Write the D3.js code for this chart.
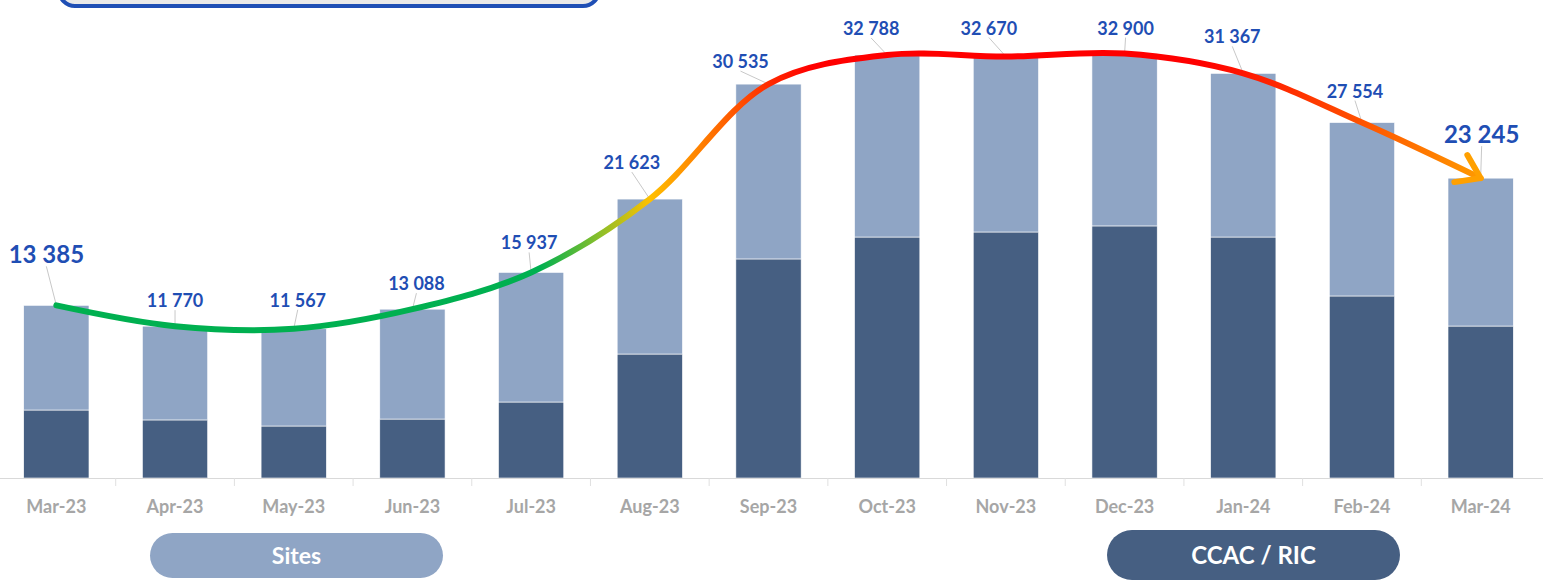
<!DOCTYPE html>
<html>
<head>
<meta charset="utf-8">
<script src="https://cdn.jsdelivr.net/npm/d3@7"></script>
<style>
  html, body { margin: 0; padding: 0; background: #fff; }
  svg { display: block; }
  text { font-family: Lato, "Open Sans", sans-serif; font-weight: 700; }
</style>
</head>
<body>
<div id="wrapper"></div>
<script>
// data
const months = ["Mar-23", "Apr-23", "May-23", "Jun-23", "Jul-23", "Aug-23", "Sep-23",
                "Oct-23", "Nov-23", "Dec-23", "Jan-24", "Feb-24", "Mar-24"];
const totals = [13385, 11770, 11567, 13088, 15937, 21623, 30535, 32788, 32670, 32900, 31367, 27554, 23245];
const ccacRic = [5270, 4500, 4030, 4570, 5890, 9610, 16980, 18680, 19070, 19540, 18680, 14110, 11780];
const seriesNames = ["Sites", "CCAC / RIC"];

// layout nudges for the value labels (dx, dy from the point), like the original
const labelOffsets = [[-10, -42], [0, -19], [4, -22], [4, -19], [-2, -23], [-18, -30], [-28, -16],
                      [-16, -20], [-17, -22], [1, -19], [-11, -30], [-7, -25], [1, -35]];
const bigLabel = [true, false, false, false, false, false, false, false, false, false, false, false, true];

function drawChart() {
	const dimensions = { width: 1543, height: 585, baseline: 478, top: 26.5 };

	const colors = { sites: "#8fa5c5", ccac: "#465f82", label: "#1f4eb4", axis: "#a6a6a6" };

	const svg = d3.select("#wrapper").append("svg")
		.attr("width", dimensions.width)
		.attr("height", dimensions.height);

	const data = months.map((m, i) => ({
		month: m,
		ccac: ccacRic[i],
		sites: totals[i] - ccacRic[i],
		total: totals[i]
	}));

	const xScale = d3.scaleBand()
		.domain(months)
		.range([-3, 1540])
		.paddingInner(0.45)
		.paddingOuter(0.225);

	const yScale = d3.scaleLinear()
		.domain([0, 35000])
		.range([dimensions.baseline, dimensions.top]);

	// title box, cut off at the top
	svg.append("rect")
		.attr("x", 59).attr("y", -40)
		.attr("width", 540).attr("height", 46)
		.attr("rx", 16)
		.attr("fill", "#e9e9e9")
		.attr("stroke", "#1f4fb5")
		.attr("stroke-width", 4);

	// stacked bars
	const stack = d3.stack().keys(["ccac", "sites"]);
	const layers = stack(data);
	const layerColors = [colors.ccac, colors.sites];

	svg.append("g").selectAll("g")
		.data(layers)
		.join("g")
		.attr("fill", (d, i) => layerColors[i])
		.selectAll("rect")
		.data(d => d)
		.join("rect")
		.attr("x", d => xScale(d.data.month))
		.attr("width", xScale.bandwidth())
		.attr("y", d => yScale(d[1]))
		.attr("height", d => yScale(d[0]) - yScale(d[1]))
		.attr("stroke", "#ffffff")
		.attr("stroke-width", 0.6);

	// x axis
	const xAxisGenerator = d3.axisBottom(xScale).tickSize(0).tickPadding(22);
	const xAxis = svg.append("g")
		.attr("transform", `translate(0, ${dimensions.baseline})`)
		.call(xAxisGenerator);
	xAxis.select(".domain").attr("stroke", "#d9d9d9").attr("d", `M0,0.5H${dimensions.width}`);
	xAxis.selectAll(".tick text")
		.attr("fill", colors.axis)
		.attr("font-size", 18)
		.attr("font-family", "Lato, sans-serif")
		.attr("font-weight", 700);

	const step = xScale.step();
	xAxis.selectAll(".sep")
		.data(months.slice(1))
		.join("line")
		.attr("class", "sep")
		.attr("x1", d => xScale(d) - step * 0.225)
		.attr("x2", d => xScale(d) - step * 0.225)
		.attr("y1", 0).attr("y2", 8)
		.attr("stroke", "#e0e0e0");

	// trend line with gradient
	const points = data.map(d => [xScale(d.month) + xScale.bandwidth() / 2, yScale(d.total)]);
	const xStart = points[0][0], xEnd = points[points.length - 1][0];
	const off = x => (x - xStart) / (xEnd - xStart);

	const defs = svg.append("defs");
	const grad = defs.append("linearGradient")
		.attr("id", "trend")
		.attr("gradientUnits", "userSpaceOnUse")
		.attr("x1", xStart).attr("x2", xEnd)
		.attr("y1", 0).attr("y2", 0);
	[[56, "#00b050"], [540, "#00b050"], [600, "#8cbf2a"], [650, "#ffc000"], [700, "#ff8000"],
	 [770, "#ff2a00"], [810, "#ff0000"], [1200, "#ff0000"], [1350, "#ff4c00"], [1481, "#ff9a00"]]
		.forEach(s => grad.append("stop").attr("offset", off(s[0])).attr("stop-color", s[1]));

	defs.append("marker")
		.attr("id", "arrow")
		.attr("markerUnits", "userSpaceOnUse")
		.attr("viewBox", "-30 -20 40 40")
		.attr("refX", 0).attr("refY", 0)
		.attr("markerWidth", 40).attr("markerHeight", 40)
		.attr("orient", "auto")
		.append("path")
		.attr("d", "M-22,-15L0,0L-22,15")
		.attr("fill", "none")
		.attr("stroke", "#ffa000")
		.attr("stroke-width", 6)
		.attr("stroke-linecap", "round")
		.attr("stroke-linejoin", "round");

	const lineGenerator = d3.line().curve(d3.curveCatmullRom.alpha(0.5));

	// leader lines
	svg.append("g").selectAll("line")
		.data(data)
		.join("line")
		.attr("x1", (d, i) => points[i][0] + labelOffsets[i][0])
		.attr("y1", (d, i) => points[i][1] + labelOffsets[i][1] + 3)
		.attr("x2", (d, i) => points[i][0])
		.attr("y2", (d, i) => points[i][1])
		.attr("stroke", "#c8c8c8")
		.attr("stroke-width", 1);

	svg.append("path")
		.attr("d", lineGenerator(points))
		.attr("fill", "none")
		.attr("stroke", "url(#trend)")
		.attr("stroke-width", 6)
		.attr("stroke-linecap", "round")
		.attr("marker-end", "url(#arrow)");

	// value labels
	const fmt = v => d3.format(",")(v).replace(/,/g, " ");
	svg.append("g").selectAll("text")
		.data(data)
		.join("text")
		.attr("x", (d, i) => points[i][0] + labelOffsets[i][0])
		.attr("y", (d, i) => points[i][1] + labelOffsets[i][1])
		.attr("text-anchor", "middle")
		.attr("fill", colors.label)
		.attr("font-size", (d, i) => bigLabel[i] ? 24 : 18)
		.text(d => fmt(d.total));

	// legend pills
	const legend = [
		{ name: seriesNames[0], color: colors.sites, x: 150, y: 533, w: 293, h: 45, size: 23 },
		{ name: seriesNames[1], color: colors.ccac, x: 1107, y: 530, w: 293, h: 50, size: 24 }
	];
	const pills = svg.append("g").selectAll("g")
		.data(legend)
		.join("g");
	pills.append("rect")
		.attr("x", d => d.x).attr("y", d => d.y)
		.attr("width", d => d.w).attr("height", d => d.h)
		.attr("rx", d => d.h / 2)
		.attr("fill", d => d.color);
	pills.append("text")
		.attr("x", d => d.x + d.w / 2)
		.attr("y", d => d.y + d.h / 2)
		.attr("dy", "0.36em")
		.attr("text-anchor", "middle")
		.attr("fill", "#ffffff")
		.attr("font-size", d => d.size)
		.text(d => d.name);
}

drawChart();
</script>
</body>
</html>
